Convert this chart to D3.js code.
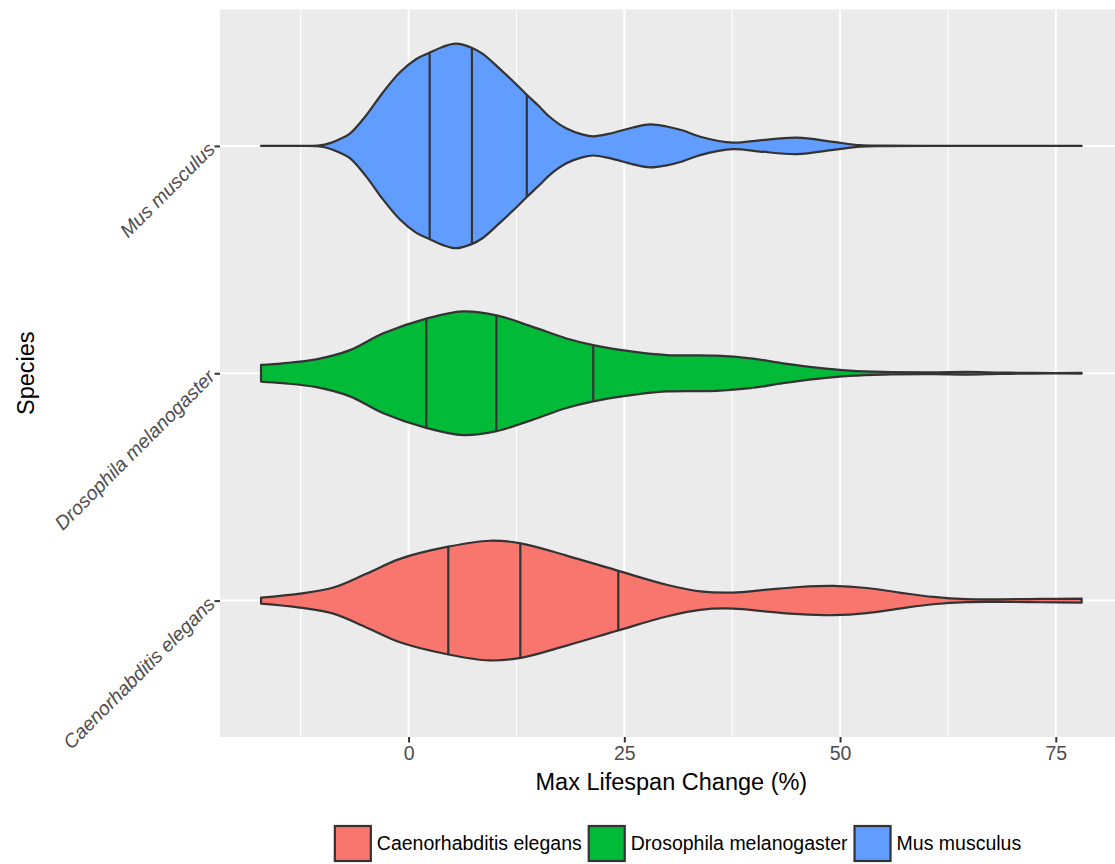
<!DOCTYPE html>
<html>
<head>
<meta charset="utf-8">
<script src="https://cdn.jsdelivr.net/npm/d3@7"></script>
<style>
  body { margin: 0; background: #fff; }
  text { font-family: "Liberation Sans", Arial, sans-serif; }
</style>
</head>
<body>
<div id="violin-chart"></div>
<script>
const species = ["Caenorhabditis elegans", "Drosophila melanogaster", "Mus musculus"];

// [value, relative density]
const celegansDensity = [
  [-17.1, 0.029], [-12.6, 0.068], [-8.8, 0.125], [-4.9, 0.262], [-1.0, 0.408],
  [4.6, 0.527], [9.4, 0.585], [13.0, 0.560], [18.3, 0.440], [24.3, 0.291],
  [29.9, 0.155], [33.8, 0.090], [37.6, 0.078], [41.5, 0.107], [45.3, 0.133],
  [49.2, 0.143], [53.1, 0.123], [56.9, 0.078], [60.8, 0.036], [64.7, 0.014],
  [68.5, 0.012], [73.2, 0.016], [78.0, 0.020]
];
const drosophilaDensity = [
  [-17.1, 0.081], [-14.6, 0.097], [-10.7, 0.136], [-6.8, 0.226], [-3.0, 0.388],
  [2.05, 0.534], [6.3, 0.605], [10.2, 0.566], [14.4, 0.453], [18.3, 0.340],
  [21.4, 0.275], [26.0, 0.211], [29.9, 0.178], [35.7, 0.172], [39.6, 0.146],
  [43.4, 0.097], [47.3, 0.055], [51.1, 0.026], [55.0, 0.013], [60.8, 0.010],
  [64.7, 0.013], [68.5, 0.007], [72.4, 0.003], [78.0, 0.003]
];
const musDensity = [
  [-17.1, 0], [-12.0, 0], [-10.3, 0.006], [-9.2, 0.025], [-8.0, 0.065], [-6.8, 0.12],
  [-4.9, 0.30], [-3.0, 0.52], [-1.0, 0.72], [0.9, 0.85], [2.4, 0.91], [4.0, 0.97],
  [5.5, 1.0], [7.3, 0.96], [8.6, 0.90], [10.6, 0.75], [12.5, 0.60], [13.7, 0.50],
  [15.2, 0.38], [16.4, 0.28], [18.3, 0.17], [20.2, 0.11], [21.4, 0.094], [23.3, 0.12],
  [26.0, 0.18], [28.0, 0.21], [29.9, 0.19], [31.8, 0.15], [33.8, 0.09], [37.6, 0.032],
  [40.7, 0.055], [45.0, 0.08], [49.2, 0.039], [52.3, 0.007], [55.0, 0.002], [60.0, 0],
  [78.0, 0]
];

const celegansQuartiles = [4.6, 12.95, 24.3];
const drosophilaQuartiles = [2.05, 10.17, 21.4];
const musQuartiles = [2.44, 7.34, 13.7];

const xTicks = [0, 25, 50, 75];
const xMinorTicks = [-12.5, 12.5, 37.5, 62.5];

const fills = ["#F8766D", "#00BA38", "#619CFF"];

const width = 1115, height = 864;
const panel = { left: 220, top: 9.5, right: 1122.7, bottom: 737 };

const groups = [
  { name: species[0], density: celegansDensity, quartiles: celegansQuartiles },
  { name: species[1], density: drosophilaDensity, quartiles: drosophilaQuartiles },
  { name: species[2], density: musDensity, quartiles: musQuartiles }
];

const svg = d3.select("#violin-chart").append("svg")
    .attr("width", width)
    .attr("height", height);

// data range with ggplot's 5% expansion
let lo = d3.min(groups, g => d3.min(g.density, d => d[0]));
let hi = d3.max(groups, g => d3.max(g.density, d => d[0]));
let pad = (hi - lo) * 0.05;

let xScale = d3.scaleLinear()
    .domain([lo - pad, hi + pad])
    .range([panel.left, panel.right]);

let yScale = d3.scalePoint()
    .domain(species)
    .range([panel.bottom, panel.top])
    .padding(0.6);

let wScale = d3.scaleLinear()
    .domain([0, 1])
    .range([0, 0.45 * yScale.step()]);

svg.append("rect")
    .attr("x", panel.left)
    .attr("y", panel.top)
    .attr("width", panel.right - panel.left)
    .attr("height", panel.bottom - panel.top)
    .attr("fill", "#EBEBEB");

svg.selectAll(".minor-grid")
    .data(xMinorTicks)
    .enter().append("line")
    .attr("class", "minor-grid")
    .attr("x1", d => xScale(d)).attr("x2", d => xScale(d))
    .attr("y1", panel.top).attr("y2", panel.bottom)
    .attr("stroke", "#fff").attr("stroke-width", 1.1);

svg.selectAll(".major-grid")
    .data(xTicks)
    .enter().append("line")
    .attr("class", "major-grid")
    .attr("x1", d => xScale(d)).attr("x2", d => xScale(d))
    .attr("y1", panel.top).attr("y2", panel.bottom)
    .attr("stroke", "#fff").attr("stroke-width", 2);

svg.selectAll(".hgrid")
    .data(species)
    .enter().append("line")
    .attr("class", "hgrid")
    .attr("x1", panel.left).attr("x2", panel.right)
    .attr("y1", d => yScale(d)).attr("y2", d => yScale(d))
    .attr("stroke", "#fff").attr("stroke-width", 2);

function densityAt(arr, v) {
  for (let i = 1; i < arr.length; i++) {
    if (v <= arr[i][0]) {
      let t = (v - arr[i - 1][0]) / (arr[i][0] - arr[i - 1][0]);
      return arr[i - 1][1] + t * (arr[i][1] - arr[i - 1][1]);
    }
  }
  return arr[arr.length - 1][1];
}

groups.forEach(function(g, i) {
  let cy = yScale(g.name);
  let area = d3.area()
      .x(d => xScale(d[0]))
      .y0(d => cy - wScale(d[1]))
      .y1(d => cy + wScale(d[1]))
      .curve(d3.curveCatmullRom.alpha(0.5));

  svg.append("path")
      .datum(g.density)
      .attr("d", area)
      .attr("fill", fills[i])
      .attr("stroke", "#333333")
      .attr("stroke-width", 2.2)
      .attr("stroke-linejoin", "round");

  svg.selectAll(".q" + i)
      .data(g.quartiles)
      .enter().append("line")
      .attr("class", "q" + i)
      .attr("x1", d => xScale(d)).attr("x2", d => xScale(d))
      .attr("y1", d => cy - wScale(densityAt(g.density, d)))
      .attr("y2", d => cy + wScale(densityAt(g.density, d)))
      .attr("stroke", "#333333")
      .attr("stroke-width", 2.2);
});

// x axis
let xAxis = d3.axisBottom(xScale)
    .tickValues(xTicks)
    .tickSize(5.5)
    .tickPadding(4);

let gx = svg.append("g")
    .attr("transform", "translate(0," + panel.bottom + ")")
    .call(xAxis);
gx.select(".domain").remove();
gx.selectAll(".tick line").attr("stroke", "#333333").attr("stroke-width", 2);
gx.selectAll(".tick text")
    .attr("fill", "#4D4D4D")
    .style("font-size", "19.5px");

// y axis
let yAxis = d3.axisLeft(yScale).tickSize(5.5).tickPadding(3);
let gy = svg.append("g")
    .attr("transform", "translate(" + panel.left + ",0)")
    .call(yAxis);
gy.select(".domain").remove();
gy.selectAll(".tick line").attr("stroke", "#333333").attr("stroke-width", 2);
gy.selectAll(".tick text")
    .attr("fill", "#4D4D4D")
    .attr("x", -8)
    .attr("dy", "0.3em")
    .attr("transform", "rotate(-45,-8,0)")
    .style("font-size", "19.5px")
    .style("font-style", "italic");

svg.append("text")
    .attr("x", (panel.left + panel.right) / 2)
    .attr("y", 790)
    .attr("text-anchor", "middle")
    .style("font-size", "23.5px")
    .text("Max Lifespan Change (%)");

svg.append("text")
    .attr("transform", "translate(34," + (panel.top + panel.bottom) / 2 + ") rotate(-90)")
    .attr("text-anchor", "middle")
    .style("font-size", "23.5px")
    .text("Species");

// legend
let legend = svg.append("g");
let cursor = 0;
species.forEach(function(s, i) {
  let item = legend.append("g").attr("transform", "translate(" + cursor + ",0)");
  item.append("rect")
      .attr("x", 1).attr("y", 826)
      .attr("width", 36).attr("height", 35)
      .attr("fill", fills[i])
      .attr("stroke", "#333333")
      .attr("stroke-width", 2.2);
  let t = item.append("text")
      .attr("x", 43).attr("y", 850)
      .style("font-size", "19.5px")
      .text(s);
  cursor += 43 + t.node().getComputedTextLength() + 6;
});
legend.attr("transform", "translate(" + (677.5 - (cursor - 6) / 2) + ",0)");
</script>
</body>
</html>
